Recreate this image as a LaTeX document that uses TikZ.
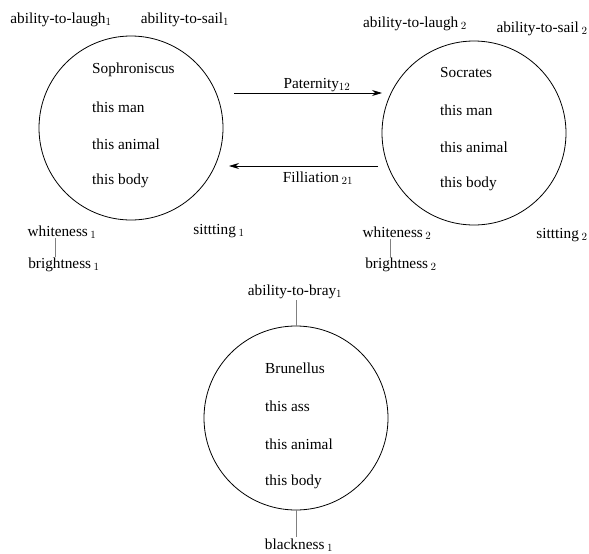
\documentclass[tikz,border=0pt]{standalone}
\usepackage{fontspec}
\setmainfont{Liberation Serif}
\usetikzlibrary{arrows.meta}
\begin{document}
\begin{tikzpicture}[x=1pt,y=-1pt,
  txt/.style={font=\fontsize{15.3}{18}\selectfont, inner sep=1pt},
  inner/.style={txt, anchor=west},
  entity/.style={draw, circle, line width=0.8pt, minimum size=184pt, inner sep=0pt},
  bar/.style={draw=gray, line width=0.6pt},
  rel/.style={line width=0.8pt, -{Stealth[length=10pt,width=6pt]}}]
\useasboundingbox (0,0) rectangle (589,554);
% circles
\node[entity] (c1) at (131,128) {};
\node[entity] (c2) at (474,133) {};
\node[entity] (c3) at (296,418) {};
% inner texts
\node[inner] (s1) at (91,70) {Sophroniscus};
\node[inner] (m1) at (91,107) {this man};
\node[inner] (a1) at (91,144) {this animal};
\node[inner] (b1) at (91,181) {this body};
\node[inner] (s2) at (439,73) {Socrates};
\node[inner] (m2) at (439,110) {this man};
\node[inner] (a2) at (439,147) {this animal};
\node[inner] (b2) at (439,184) {this body};
\node[inner] (s3) at (264,368) {Brunellus};
\node[inner] (m3) at (264,406) {this ass};
\node[inner] (a3) at (264,444) {this animal};
\node[inner] (b3) at (264,482) {this body};
% outer labels
\node[txt] (lau1) at (61,20) {ability-to-laugh$_{1}$};
\node[txt] (sail1) at (185,20) {ability-to-sail$_{1}$};
\node[txt] (lau2) at (415,24) {ability-to-laugh\,$_{2}$};
\node[txt] (sail2) at (542,29) {ability-to-sail\,$_{2}$};
\node[txt] (white1) at (62,232) {whiteness\,$_{1}$};
\node[txt] (bright1) at (64,265) {brightness\,$_{1}$};
\node[txt] (sit1) at (219,231) {sittting\,$_{1}$};
\node[txt] (white2) at (397,233) {whiteness\,$_{2}$};
\node[txt] (bright2) at (401,265) {brightness\,$_{2}$};
\node[txt] (sit2) at (562,235) {sittting\,$_{2}$};
\node[txt] (bray) at (295,292) {ability-to-bray$_{1}$};
\node[txt] (black) at (299,545) {blackness\,$_{1}$};
% relation labels
\node[txt] (pat) at (317,85) {Paternity$_{12}$};
\node[txt] (fil) at (318,178) {Filliation\,$_{21}$};
% arrows
\coordinate (p0) at (234,93);
\coordinate (p1) at (382,93);
\coordinate (f0) at (378,166);
\coordinate (f1) at (229,166);
\draw[rel] (p0) -- (p1);
\draw[rel] (f0) -- (f1);
% bars
\coordinate (w1) at ([xshift=-7pt,yshift=2pt]white1.south);
\coordinate (w2) at ([xshift=-7pt,yshift=2pt]white2.south);
\draw[bar] (w1) -- (w1 |- bright1.north);
\draw[bar] (w2) -- (w2 |- bright2.north);
\draw[bar] (c3.north |- bray.south) -- (c3.north);
\draw[bar] (c3.south) -- (c3.south |- black.north);
\end{tikzpicture}
\end{document}
